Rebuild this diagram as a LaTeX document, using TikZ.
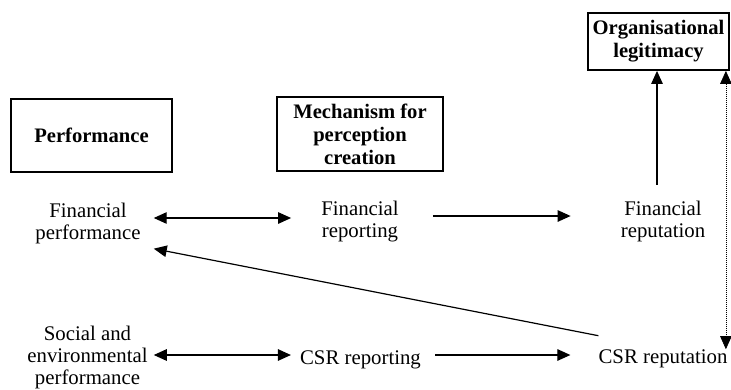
\documentclass[tikz,border=0pt]{standalone}
\usepackage{fontspec}
\setmainfont{Liberation Serif}
\usetikzlibrary{arrows.meta}
\tikzset{
  lbl/.style={align=center, inner sep=0pt, font=\fontsize{20.8}{22.3}\selectfont},
  hdbox/.style={draw, line width=1.8pt, align=center, inner sep=0pt, font=\fontsize{20.6}{23}\selectfont\bfseries},
  tip/.tip={Triangle[length=13pt,width=11.5pt]},
  arr/.style={-tip, line width=1.2pt},
  dblarr/.style={tip-tip, line width=1.2pt},
  dotarr/.style={tip-tip, line width=0.7pt, dash pattern=on 1pt off 1pt}
}
\begin{document}
\begin{tikzpicture}[x=1pt,y=-1pt]
\useasboundingbox (0,0) rectangle (731,389);
% header boxes
\node[hdbox, minimum width=161pt, minimum height=73pt] (perf) at (91.5,135.5) {Performance};
\node[hdbox, minimum width=166pt, minimum height=74pt] (mech) at (360,134) {Mechanism for\\perception\\creation};
\node[hdbox, minimum width=141pt, minimum height=57pt] (org) at (658.5,41.5) {Organisational\\legitimacy};
% labels
\node[lbl] (fp) at (88,223.3) {Financial\\performance};
\node[lbl] (frp) at (360,221.3) {Financial\\reporting};
\node[lbl] (frep) at (663,221.3) {Financial\\reputation};
\node[lbl] (sep) at (87.5,357.4) {Social and\\environmental\\performance};
\node[lbl] (csrp) at (360.5,359.5) {CSR reporting};
\node[lbl] (csrrep) at (663,358.5) {CSR reputation};
% connectors
\draw[dblarr] ([xshift=13pt,yshift=5.3pt]fp.east) -- ([xshift=-30pt,yshift=3.3pt]frp.west);
\draw[arr] ([xshift=34pt,yshift=5.3pt]frp.east) -- ([xshift=-50pt,yshift=5.3pt]frep.west);
\draw[arr] ([xshift=-6pt,yshift=16pt]frep.north) -- ([xshift=-1.5pt]org.south);
\draw[dotarr] ([xshift=-4pt]org.south east) -- ([xshift=-4pt]org.south east |- csrrep.north);
\draw[arr] ([yshift=13.5pt]csrrep.north west) -- ([xshift=13pt,yshift=-4.6pt]fp.south east);
\draw[dblarr] ([xshift=6pt,yshift=2.4pt]sep.east) -- ([xshift=-9pt,yshift=4.5pt]csrp.west);
\draw[arr] ([xshift=14pt,yshift=4.5pt]csrp.east) -- ([xshift=-28pt,yshift=3.5pt]csrrep.west);
\end{tikzpicture}
\end{document}
